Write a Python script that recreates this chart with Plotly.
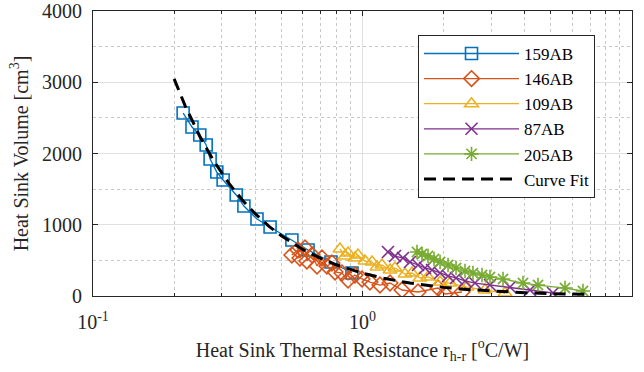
import plotly.graph_objects as go

# ---- data ----
r_159 = [0.216, 0.233, 0.249, 0.263, 0.272, 0.288, 0.304, 0.340, 0.363, 0.406, 0.454, 0.547, 0.628, 0.764, 0.914]
v_159 = [2568, 2372, 2260, 2119, 1923, 1740, 1628, 1418, 1263, 1081, 968, 786, 646, 477, 323]

r_146 = [0.547, 0.576, 0.586, 0.612, 0.622, 0.650, 0.678, 0.707, 0.738, 0.770, 0.791, 0.839,
         0.884, 0.938, 0.996, 1.066, 1.161, 1.265, 1.402, 1.607, 1.906, 2.023, 2.340]
v_146 = [575, 646, 533, 674, 491, 575, 421, 533, 421, 463, 337, 323,
         225, 295, 239, 196, 154, 182, 84, 56, 112, 28, 56]

r_109 = [0.825, 0.861, 0.884, 0.938, 0.962, 1.021, 1.085, 1.132, 1.181, 1.265, 1.320, 1.438,
         1.526, 1.634, 1.750, 1.940, 2.112, 2.443, 2.849, 3.380]
v_109 = [660, 561, 604, 533, 575, 491, 477, 407, 435, 365, 393, 309,
         323, 253, 267, 196, 182, 126, 84, 42]

r_87 = [1.243, 1.320, 1.413, 1.500, 1.607, 1.706, 1.811, 1.940, 2.077, 2.224, 2.401, 2.615,
        2.972, 3.526, 4.183, 5.092]
v_87 = [618, 561, 533, 477, 435, 393, 365, 323, 281, 253, 211, 182, 154, 126, 84, 42]

r_205 = [1.593, 1.663, 1.750, 1.842, 1.940, 2.077, 2.224, 2.401, 2.570, 2.776, 2.972, 3.322,
         3.940, 4.479, 5.642, 6.578]
v_205 = [618, 589, 561, 519, 477, 435, 393, 351, 323, 295, 267, 239, 182, 154, 112, 70]

r_fit = [0.2, 0.22, 0.25, 0.28, 0.32, 0.36, 0.4, 0.45, 0.5, 0.6, 0.7, 0.8, 1.0, 1.2, 1.5,
         2.0, 2.5, 3.0, 4.0, 5.0, 6.5, 7.0]
v_fit = [3047, 2666, 2228, 1901, 1577, 1338, 1154, 978, 845, 654, 527, 438, 320, 248, 181,
         121, 89, 69, 46, 34, 23, 21]

x_tickvals = [0.1, 1, 10]
x_ticktext = ["10<sup>-1</sup>", "10<sup>0</sup>", "10<sup>1</sup>"]
y_tickvals = [0, 1000, 2000, 3000, 4000]

FONT = "Liberation Serif"
TXT = "#262626"

series = [
    ("159AB", r_159, v_159, "#0072BD", "square-open"),
    ("146AB", r_146, v_146, "#D95319", "diamond-open"),
    ("109AB", r_109, v_109, "#EDB120", "triangle-up-open"),
    ("87AB", r_87, v_87, "#7E2F8E", "x-thin-open"),
    ("205AB", r_205, v_205, "#77AC30", "asterisk-open"),
]

fig = go.Figure()
for name, xs, ys, col, sym in series:
    fig.add_trace(go.Scatter(
        x=xs, y=ys, name=name, mode="lines+markers",
        line=dict(color=col, width=1.3),
        marker=dict(symbol=sym, size=12, color=col, line=dict(color=col, width=1.6)),
    ))

fig.add_trace(go.Scatter(
    x=r_fit, y=v_fit, name="Curve Fit", mode="lines",
    line=dict(color="black", width=3, dash="12px,7px"),
))

axis_common = dict(
    showline=True, linecolor=TXT, linewidth=1, mirror="allticks",
    ticks="inside", tickcolor=TXT, ticklen=5,
    showgrid=True, gridcolor="#e0e0e0", gridwidth=1,
    zeroline=False, automargin=False,
    tickfont=dict(family=FONT, size=20, color=TXT),
    title_font=dict(family=FONT, size=20, color=TXT),
)

fig.update_xaxes(
    type="log", range=[-1, 1],
    tickvals=x_tickvals, ticktext=x_ticktext,
    ticklabelstandoff=8,
    minor=dict(dtick="D1", ticks="inside", ticklen=3, tickcolor=TXT,
               showgrid=True, gridcolor="#c8c8c8", griddash="dot", gridwidth=1),
    title=dict(text="Heat Sink Thermal Resistance r<sub>h-r</sub> [<sup>o</sup>C/W]", standoff=10),
    **axis_common,
)
fig.update_yaxes(
    range=[0, 4000], tickvals=y_tickvals,
    ticklabelstandoff=6,
    minor=dict(dtick=500, ticks="", showgrid=True, gridcolor="#c8c8c8",
               griddash="dot", gridwidth=1),
    title=dict(text="Heat Sink Volume [cm<sup>3</sup>]", standoff=8),
    **axis_common,
)

fig.update_layout(
    width=644, height=372,
    margin=dict(l=93, r=12, t=11, b=76),
    paper_bgcolor="white", plot_bgcolor="white",
    font=dict(family=FONT, size=20, color=TXT),
    showlegend=True,
    legend=dict(
        x=0.603, y=0.916, xanchor="left", yanchor="top",
        bgcolor="white", bordercolor=TXT, borderwidth=1,
        font=dict(family=FONT, size=17, color="black"),
        itemwidth=95, tracegroupgap=0,
    ),
)

fig.write_html(
    "out.html",
    config={"displayModeBar": False},
    post_script="document.body.style.margin='0';document.body.style.overflow='hidden';",
)
